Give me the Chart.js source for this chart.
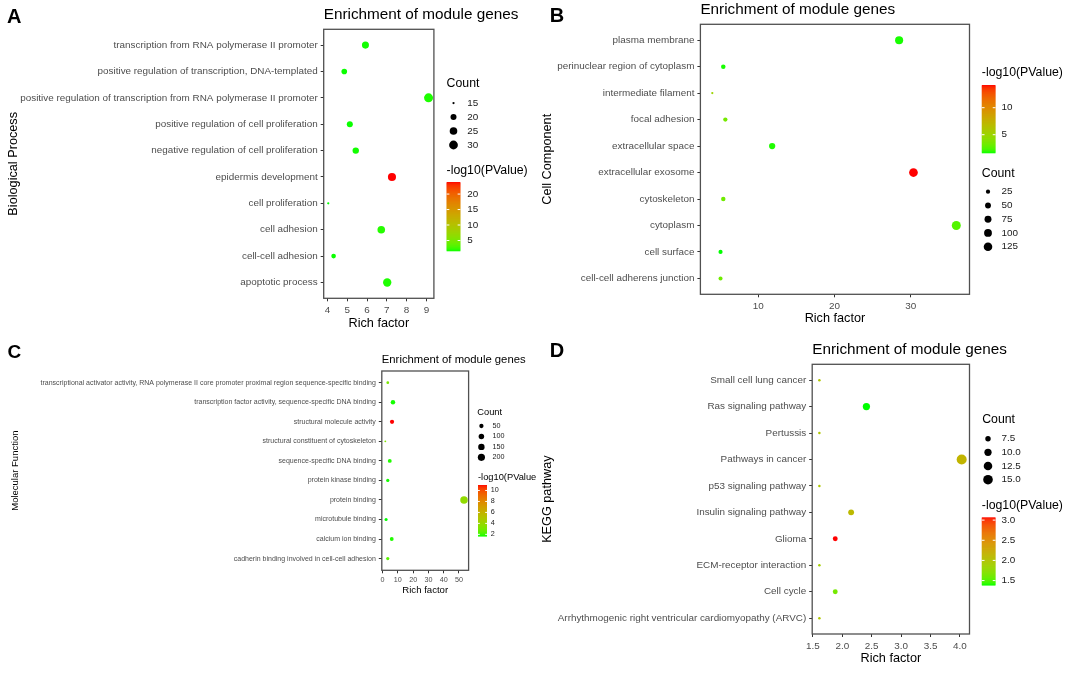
<!DOCTYPE html>
<html><head><meta charset="utf-8">
<script src="https://cdn.jsdelivr.net/npm/chart.js@4.4.1/dist/chart.umd.min.js"></script>
<style>
html,body{margin:0;padding:0;background:#fff;}
body{width:1072px;height:673px;position:relative;overflow:hidden;}
canvas{position:absolute;}
</style></head><body>
<canvas id="cA" width="536" height="335" style="left:0;top:0;width:536px;height:335px"></canvas>
<canvas id="cB" width="536" height="335" style="left:536px;top:0;width:536px;height:335px"></canvas>
<canvas id="cC" width="536" height="338" style="left:0;top:335px;width:536px;height:338px"></canvas>
<canvas id="cD" width="536" height="338" style="left:536px;top:335px;width:536px;height:338px"></canvas>
<script>
// ---------- DATA ----------
const chartTitle = "Enrichment of module genes";

// A: Biological Process
const bpTerms = ["transcription from RNA polymerase II promoter","positive regulation of transcription, DNA-templated","positive regulation of transcription from RNA polymerase II promoter","positive regulation of cell proliferation","negative regulation of cell proliferation","epidermis development","cell proliferation","cell adhesion","cell-cell adhesion","apoptotic process"];
const bpRich = [5.92,4.85,9.11,5.13,5.43,7.26,4.04,6.72,4.31,7.02];
const bpCount = [23,19,31,20,21,27,15,25,17,28];
const bpLogP = [1.8,1.75,1.9,1.75,1.8,23.9,1.7,2.0,1.75,1.9];
const bpXTicks = [4,5,6,7,8,9];
const bpCountBreaks = [15,20,25,30];
const bpColorBreaks = [5,10,15,20];

// B: Cell Component
const ccTerms = ["plasma membrane","perinuclear region of cytoplasm","intermediate filament","focal adhesion","extracellular space","extracellular exosome","cytoskeleton","cytoplasm","cell surface","cell-cell adherens junction"];
const ccRich = [28.48,5.42,3.98,5.69,11.83,30.36,5.42,35.98,5.06,5.06];
const ccCount = [108,28,14,26,59,130,27,140,24,23];
const ccLogP = [1.75,1.75,5.0,3.4,1.8,14.2,3.2,2.5,1.67,3.2];
const ccXTicks = [10,20,30];
const ccCountBreaks = [25,50,75,100,125];
const ccColorBreaks = [5,10];

// C: Molecular Function
const mfTerms = ["transcriptional activator activity, RNA polymerase II core promoter proximal region sequence-specific binding","transcription factor activity, sequence-specific DNA binding","structural molecule activity","structural constituent of cytoskeleton","sequence-specific DNA binding","protein kinase binding","protein binding","microtubule binding","calcium ion binding","cadherin binding involved in cell-cell adhesion"];
const mfRich = [3.4,6.8,6.2,1.8,4.7,3.4,53.3,2.3,6.0,3.4];
const mfCount = [15,57,47,10,37,23,225,20,37,23];
const mfLogP = [3.1,1.75,11.0,3.3,1.8,1.75,3.8,1.7,1.8,2.4];
const mfXTicks = [0,10,20,30,40,50];
const mfCountBreaks = [50,100,150,200];
const mfColorBreaks = [2,4,6,8,10];

// D: KEGG pathway
const kgTerms = ["Small cell lung cancer","Ras signaling pathway","Pertussis","Pathways in cancer","p53 signaling pathway","Insulin signaling pathway","Glioma","ECM-receptor interaction","Cell cycle","Arrhythmogenic right ventricular cardiomyopathy (ARVC)"];
const kgRich = [1.61,2.41,1.61,4.03,1.61,2.15,1.88,1.61,1.88,1.61];
const kgCount = [6,10,6,16,6,8,7,6,7,6];
const kgLogP = [1.98,1.39,1.98,2.15,1.98,2.10,3.07,1.90,1.62,1.98];
const kgXTicks = [1.5,2.0,2.5,3.0,3.5,4.0];
const kgCountBreaks = [7.5,10.0,12.5,15.0];
const kgColorBreaks = [1.5,2.0,2.5,3.0];

// ---------- COLOUR (Lab gradient green -> red, like ggplot) ----------
function s2l(c){c/=255;return c<=0.04045?c/12.92:Math.pow((c+0.055)/1.055,2.4);}
function l2s(c){c=c<=0.0031308?12.92*c:1.055*Math.pow(Math.max(c,0),1/2.4)-0.055;return Math.round(Math.max(0,Math.min(1,c))*255);}
function rgb2lab(r,g,b){const R=s2l(r),G=s2l(g),B=s2l(b);
  const X=(0.4124*R+0.3576*G+0.1805*B)/0.95047,Y=0.2126*R+0.7152*G+0.0722*B,Z=(0.0193*R+0.1192*G+0.9505*B)/1.08883;
  const f=t=>t>0.008856?Math.cbrt(t):7.787*t+16/116;const fx=f(X),fy=f(Y),fz=f(Z);
  return [116*fy-16,500*(fx-fy),200*(fy-fz)];}
function lab2rgb(L,a,b){const fy=(L+16)/116,fx=fy+a/500,fz=fy-b/200;const fi=t=>t>0.206893?t*t*t:(t-16/116)/7.787;
  const X=fi(fx)*0.95047,Y=fi(fy),Z=fi(fz)*1.08883;
  return [l2s(3.2406*X-1.5372*Y-0.4986*Z),l2s(-0.9689*X+1.8758*Y+0.0415*Z),l2s(0.0557*X-0.2040*Y+1.0570*Z)];}
const LAB_LO=rgb2lab(0,255,0), LAB_HI=rgb2lab(255,0,0);
function gradColor(t){t=Math.max(0,Math.min(1,t));
  const c=lab2rgb(LAB_LO[0]+(LAB_HI[0]-LAB_LO[0])*t,LAB_LO[1]+(LAB_HI[1]-LAB_LO[1])*t,LAB_LO[2]+(LAB_HI[2]-LAB_LO[2])*t);
  return `rgb(${c[0]},${c[1]},${c[2]})`;}

const FONT = "'Liberation Sans', Arial, Helvetica, sans-serif";

function makePanel(id, d, g){
  const cv=document.getElementById(id);
  const W=cv.width,H=cv.height,n=d.terms.length;
  const lo=Math.min(...d.logp),hi=Math.max(...d.logp);
  const cmin=Math.min(...d.count),cmax=Math.max(...d.count);
  const rad=c=>g.k*(1.5+4.5*Math.sqrt(Math.max(0,(c-cmin)/(cmax-cmin))))/2;
  const col=v=>gradColor((v-lo)/(hi-lo));
  const pts=d.terms.map((t,i)=>({x:d.rich[i],y:i,r:rad(d.count[i])}));

  const decor={id:'decor_'+id, afterDraw(chart){
    const ctx=chart.ctx,a=chart.chartArea;
    ctx.save();
    ctx.strokeStyle='#505050';ctx.lineWidth=1.3;
    ctx.strokeRect(a.left,a.top,a.right-a.left,a.bottom-a.top);
    ctx.fillStyle='#000';ctx.textAlign='left';ctx.textBaseline='middle';
    ctx.font=`${g.titleSize}px ${FONT}`;
    ctx.fillText(chartTitle,a.left,g.titleY);
    ctx.font=`bold ${g.letterSize}px ${FONT}`;ctx.textBaseline='alphabetic';
    ctx.fillText(g.letter,g.letterX,g.letterY);
    ctx.textBaseline='middle';
    // count legend
    const C=g.cnt;
    ctx.font=`${g.legTitleSize}px ${FONT}`;ctx.fillStyle='#000';
    ctx.fillText('Count',C.x,C.titleY);
    d.countBreaks.forEach((v,i)=>{
      const y=C.y0+i*C.step;
      ctx.beginPath();ctx.arc(C.dotX,y,rad(v),0,Math.PI*2);ctx.fillStyle='#000';ctx.fill();
      ctx.font=`${g.legLabSize}px ${FONT}`;ctx.fillStyle='#1a1a1a';
      ctx.fillText(v.toFixed(d.countDec),C.labelX,y);
    });
    // colour bar
    const B=g.bar;
    ctx.font=`${g.legTitleSize}px ${FONT}`;ctx.fillStyle='#000';
    ctx.fillText(g.colTitle,B.x,B.titleY);
    const steps=Math.round(B.h);
    for(let i=0;i<steps;i++){
      const t=1-(i+0.5)/steps;
      ctx.fillStyle=gradColor(t);
      ctx.fillRect(B.x,B.y+i*B.h/steps,B.w,B.h/steps+0.6);
    }
    ctx.strokeStyle='#fff';ctx.lineWidth=1;
    d.colorBreaks.forEach(v=>{
      const y=B.y+B.h-(v-lo)/(hi-lo)*B.h;
      ctx.beginPath();ctx.moveTo(B.x,y);ctx.lineTo(B.x+B.w/5,y);
      ctx.moveTo(B.x+B.w,y);ctx.lineTo(B.x+B.w*4/5,y);ctx.stroke();
      ctx.font=`${g.legLabSize}px ${FONT}`;ctx.fillStyle='#1a1a1a';
      ctx.fillText(v.toFixed(d.colorDec),B.labelX,y);
    });
    ctx.restore();
  }};

  return new Chart(cv,{
    type:'bubble',
    data:{datasets:[{data:pts,backgroundColor:d.logp.map(col),borderWidth:0,hoverBorderWidth:0,clip:false}]},
    options:{
      responsive:false,animation:false,events:[],devicePixelRatio:1,
      layout:{padding:{left:0,top:g.area.top,right:W-g.area.right,bottom:0}},
      plugins:{legend:{display:false},tooltip:{enabled:false},title:{display:false}},
      scales:{
        x:{type:'linear',min:g.xmin,max:g.xmax,
          afterFit:s=>{s.height=H-g.area.bottom;},
          afterBuildTicks:s=>{s.ticks=d.xticks.map(v=>({value:v}));},
          ticks:{autoSkip:false,maxRotation:0,minRotation:0,padding:g.xTickPad,color:'#4d4d4d',
            font:{family:FONT,size:g.tickSize},callback:v=>v.toFixed(d.xDec)},
          grid:{display:true,drawOnChartArea:false,drawTicks:true,tickLength:3,color:'#333',lineWidth:1},
          border:{display:false},
          title:{display:true,text:'Rich factor',color:'#000',font:{family:FONT,size:g.axTitleSize},padding:{top:0,bottom:g.xTitlePad}}},
        y:{type:'linear',reverse:true,min:-0.6,max:n-1+0.6,
          afterFit:s=>{s.width=g.area.left;},
          afterBuildTicks:s=>{s.ticks=d.terms.map((t,i)=>({value:i}));},
          ticks:{autoSkip:false,padding:3,color:'#4d4d4d',font:{family:FONT,size:g.catSize},callback:v=>d.terms[v]},
          grid:{display:true,drawOnChartArea:false,drawTicks:true,tickLength:3,color:'#333',lineWidth:1},
          border:{display:false},
          title:{display:true,text:g.yTitle,color:'#000',font:{family:FONT,size:g.yTitleSize},padding:{top:g.yTitlePad,bottom:0}}}
      }
    },
    plugins:[decor]
  });
}

makePanel('cA',
  {terms:bpTerms,rich:bpRich,count:bpCount,logp:bpLogP,xticks:bpXTicks,xDec:0,countBreaks:bpCountBreaks,countDec:0,colorBreaks:bpColorBreaks,colorDec:0},
  {area:{left:323.7,right:433.9,top:29.3,bottom:298.3},xmin:3.81,xmax:9.38,k:1.5,
   titleSize:15.3,titleY:15,letter:'A',letterSize:20,letterX:6.9,letterY:22.7,
   tickSize:9.9,catSize:9.9,axTitleSize:12.7,yTitleSize:12.7,xTickPad:3,xTitlePad:4.2,yTitle:'Biological Process',yTitlePad:5.6,
   legTitleSize:12.3,legLabSize:9.9,colTitle:'-log10(PValue)',
   cnt:{x:446.6,titleY:84,dotX:453.5,labelX:467.3,y0:103,step:14},
   bar:{x:446.6,y:182,w:13.8,h:68.7,titleY:171,labelX:467.3}});

makePanel('cB',
  {terms:ccTerms,rich:ccRich,count:ccCount,logp:ccLogP,xticks:ccXTicks,xDec:0,countBreaks:ccCountBreaks,countDec:0,colorBreaks:ccColorBreaks,colorDec:0},
  {area:{left:164.4,right:433.5,top:24.3,bottom:294.3},xmin:2.42,xmax:37.71,k:1.5,
   titleSize:15.3,titleY:10,letter:'B',letterSize:20,letterX:13.7,letterY:22,
   tickSize:9.9,catSize:9.9,axTitleSize:12.7,yTitleSize:12.7,xTickPad:3,xTitlePad:8.5,yTitle:'Cell Component',yTitlePad:4.3,
   legTitleSize:12.3,legLabSize:9.9,colTitle:'-log10(PValue)',
   cnt:{x:445.8,titleY:173.3,dotX:452,labelX:465.6,y0:191.7,step:13.75},
   bar:{x:445.8,y:85,w:13.7,h:67.7,titleY:72.3,labelX:465.6}});

makePanel('cC',
  {terms:mfTerms,rich:mfRich,count:mfCount,logp:mfLogP,xticks:mfXTicks,xDec:0,countBreaks:mfCountBreaks,countDec:0,colorBreaks:mfColorBreaks,colorDec:0},
  {area:{left:381.8,right:468.6,top:36,bottom:235.3},xmin:-0.5,xmax:56.3,k:1.25,
   titleSize:11.3,titleY:25,letter:'C',letterSize:19,letterX:7.6,letterY:23.3,
   tickSize:7.2,catSize:7,axTitleSize:9.6,yTitleSize:9.5,xTickPad:2.4,xTitlePad:77.3,yTitle:'Molecular Function',yTitlePad:9.8,
   legTitleSize:9.3,legLabSize:7.2,colTitle:'-log10(PValue',
   cnt:{x:477.3,titleY:77.3,dotX:481.4,labelX:492.4,y0:91,step:10.45},
   bar:{x:478,y:150,w:9,h:51,titleY:142,labelX:490.7}});

makePanel('cD',
  {terms:kgTerms,rich:kgRich,count:kgCount,logp:kgLogP,xticks:kgXTicks,xDec:1,countBreaks:kgCountBreaks,countDec:1,colorBreaks:kgColorBreaks,colorDec:1},
  {area:{left:276.2,right:433.5,top:29.3,bottom:299},xmin:1.488,xmax:4.163,k:1.67,
   titleSize:15.3,titleY:15,letter:'D',letterSize:20,letterX:13.7,letterY:21.7,
   tickSize:9.9,catSize:9.9,axTitleSize:12.7,yTitleSize:12.7,xTickPad:3,xTitlePad:7.2,yTitle:'KEGG pathway',yTitlePad:4.3,
   legTitleSize:12.3,legLabSize:9.9,colTitle:'-log10(PValue)',
   cnt:{x:446.2,titleY:84.3,dotX:452,labelX:465.6,y0:103.7,step:13.67},
   bar:{x:445.8,y:182.3,w:13.7,h:67.7,titleY:170.7,labelX:465.6}});
</script>
</body></html>
